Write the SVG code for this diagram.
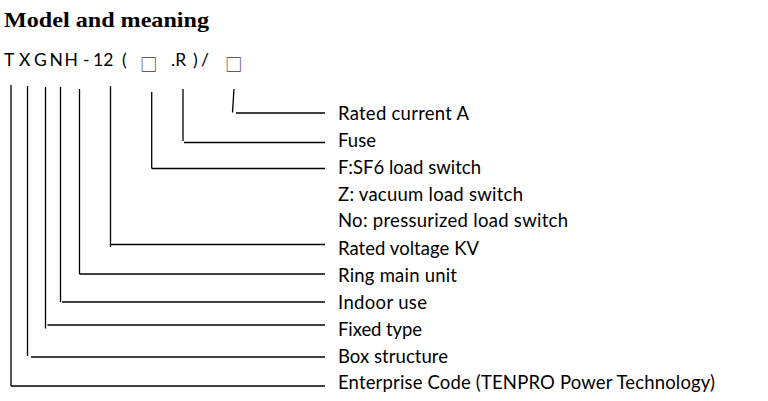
<svg xmlns="http://www.w3.org/2000/svg" width="768" height="401" viewBox="0 0 768 401">
<style>
.title{font-family:"Liberation Serif","Times New Roman",serif;font-weight:bold;font-size:22px;fill:#000}
.code{font-family:Lato,"Open Sans",sans-serif;font-size:17.5px;fill:#000}
.sq{font-family:"Noto Sans CJK SC","DejaVu Sans",sans-serif;font-size:17.5px;fill:#4a3040}
.lbl{font-family:Lato,"Open Sans",sans-serif;font-size:18.5px;fill:#000}
.ln{stroke:#000;stroke-width:1.3;fill:none}
</style>
<rect width="768" height="401" fill="#fff"/>
<text class="title" x="4" y="27" textLength="205" lengthAdjust="spacingAndGlyphs">Model and meaning</text>
<g id="model-code">
<text class="code" y="66"><tspan x="4">T</tspan><tspan x="19">X</tspan><tspan x="34">G</tspan><tspan x="49.5">N</tspan><tspan x="64.5">H</tspan><tspan x="83">-</tspan><tspan x="93">12</tspan><tspan x="122">(</tspan><tspan x="171">.R</tspan><tspan x="193">)</tspan><tspan x="201">/</tspan></text>
<text class="sq" y="70.5"><tspan x="140">□</tspan><tspan x="225">□</tspan></text>
</g>
<g id="connectors">
<line class="ln" x1="234" y1="89" x2="232.5" y2="112.5"/>
<line class="ln" x1="236" y1="113" x2="325" y2="113"/>
<line class="ln" x1="183" y1="89" x2="183" y2="141"/>
<line class="ln" x1="184" y1="142.5" x2="325" y2="142.5"/>
<line class="ln" x1="151.7" y1="92" x2="151.7" y2="168.5"/>
<line class="ln" x1="151.7" y1="168.5" x2="325" y2="168.5"/>
<line class="ln" x1="110.5" y1="86" x2="110.5" y2="247"/>
<line class="ln" x1="110.5" y1="244.5" x2="325" y2="244.5"/>
<line class="ln" x1="79.5" y1="89" x2="79.5" y2="274"/>
<line class="ln" x1="79.5" y1="274" x2="325" y2="274"/>
<line class="ln" x1="60.5" y1="87" x2="60.5" y2="302"/>
<line class="ln" x1="62" y1="302" x2="325" y2="302"/>
<line class="ln" x1="45.5" y1="87" x2="45.5" y2="328.5"/>
<line class="ln" x1="47.5" y1="325" x2="325" y2="325"/>
<line class="ln" x1="27.5" y1="86" x2="27.5" y2="356"/>
<line class="ln" x1="31" y1="357" x2="325" y2="357"/>
<line class="ln" x1="11" y1="85" x2="11" y2="386"/>
<line class="ln" x1="11" y1="386" x2="325" y2="386"/>
</g>
<g id="labels">
<g id="n-rated-current"><text class="lbl" x="338" y="120" textLength="131">Rated current A</text></g>
<g id="n-fuse"><text class="lbl" x="338" y="147" textLength="38">Fuse</text></g>
<g id="n-sf6"><text class="lbl" x="338" y="174" textLength="143">F:SF6 load switch</text></g>
<g id="n-vacuum"><text class="lbl" x="338" y="200.5" textLength="185">Z: vacuum load switch</text></g>
<g id="n-pressurized"><text class="lbl" x="338" y="227" textLength="230">No: pressurized load switch</text></g>
<g id="n-rated-voltage"><text class="lbl" x="338" y="254.5" textLength="141">Rated voltage KV</text></g>
<g id="n-ring"><text class="lbl" x="338" y="281.5" textLength="119">Ring main unit</text></g>
<g id="n-indoor"><text class="lbl" x="338" y="308.5" textLength="89">Indoor use</text></g>
<g id="n-fixed"><text class="lbl" x="338" y="335.5" textLength="84">Fixed type</text></g>
<g id="n-box"><text class="lbl" x="338" y="362.5" textLength="110">Box structure</text></g>
<g id="n-enterprise"><text class="lbl" x="338" y="389" textLength="377">Enterprise Code (TENPRO Power Technology)</text></g>
</g>
</svg>
